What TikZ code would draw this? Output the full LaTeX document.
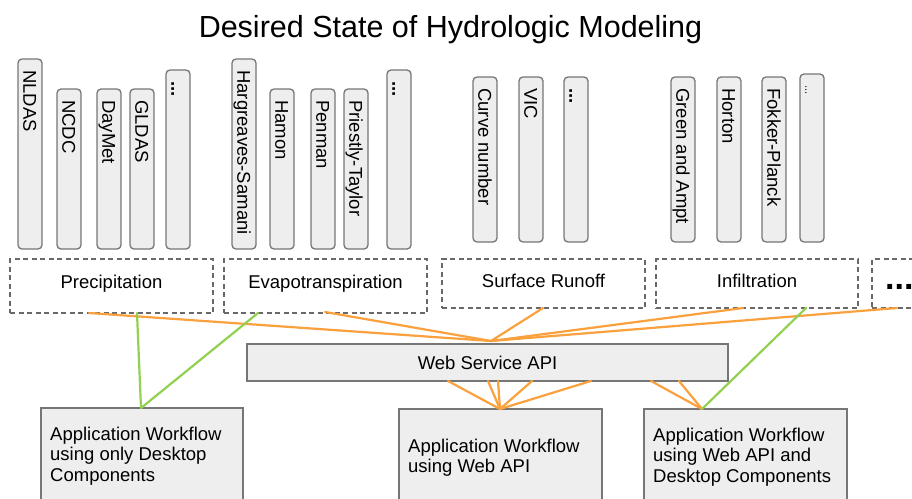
\documentclass[tikz,border=0pt]{standalone}
\usepackage{fontspec}
\setmainfont{Liberation Sans}
\definecolor{boxfill}{RGB}{238,238,238}
\definecolor{boxline}{RGB}{118,118,118}
\definecolor{dashline}{RGB}{105,105,105}
\definecolor{orangeline}{RGB}{250,160,60}
\definecolor{greenline}{RGB}{146,208,80}
\newcommand\hydvbox[5]{%
  \node[vbox, minimum height={#4-#3}] (#1) at (#2,#3) {};
  \node[vtext] (#1t) at (#2+5.4,#3+11) {#5};
}
\begin{document}
\begin{tikzpicture}[x=1pt,y=-1pt,
  vbox/.style={draw=boxline, fill=boxfill, line width=1.3pt, rounded corners=4pt,
    inner sep=0pt, outer sep=0pt, minimum width=24pt, anchor=north west},
  vtext/.style={rotate=-90, anchor=base west, inner sep=0pt, font=\fontsize{18.5}{20}\selectfont},
  catbox/.style={draw=dashline, line width=1.2pt, dash pattern=on 5pt off 3.5pt,
    inner sep=0pt, outer sep=0pt, anchor=north west},
  cattext/.style={anchor=base, inner sep=0pt, font=\fontsize{18.5}{20}\selectfont},
  graybox/.style={draw=boxline, fill=boxfill, line width=1.3pt, inner sep=0pt,
    outer sep=0pt, anchor=north west},
  apptext/.style={anchor=north west, inner sep=0pt, align=left,
    font=\fontsize{18.5}{20.8}\selectfont},
  oline/.style={draw=orangeline, line width=2.2pt, line cap=round},
  gline/.style={draw=greenline, line width=2.2pt, line cap=round}]
\useasboundingbox (0,0) rectangle (912,498);
\clip (0,0) rectangle (912,498);

% title
\node[anchor=base, inner sep=0pt, font=\fontsize{30.5}{32}\selectfont] (title) at (450.5,37)
  {Desired State of Hydrologic Modeling};

% method boxes
\hydvbox{nldas}{18}{59}{249}{NLDAS}
\hydvbox{ncdc}{57}{89}{249}{NCDC}
\hydvbox{daymet}{97}{89}{249}{DayMet}
\hydvbox{gldas}{130}{89}{249}{GLDAS}
\hydvbox{pmore}{166}{70}{249}{\textbf{...}}
\hydvbox{harg}{232}{59}{249}{Hargreaves-Samani}
\hydvbox{hamon}{270}{89}{249}{Hamon}
\hydvbox{penman}{311}{89}{249}{Penman}
\hydvbox{priestly}{344}{89}{249}{Priestly-Taylor}
\hydvbox{emore}{387}{70}{249}{\textbf{...}}
\hydvbox{curve}{473}{77}{242}{Curve number}
\hydvbox{vic}{519}{77}{242}{VIC}
\hydvbox{smore}{564}{77}{242}{\textbf{...}}
\hydvbox{green}{671}{77}{242}{Green and Ampt}
\hydvbox{horton}{717}{77}{242}{Horton}
\hydvbox{fokker}{762}{77}{242}{Fokker-Planck}
\hydvbox{imore}{800}{74}{242}{\fontsize{11}{12}\selectfont ...}

% category boxes
\node[catbox, minimum width=203pt, minimum height=54pt] (prec) at (10,259) {};
\node[catbox, minimum width=203pt, minimum height=54pt] (evap) at (224,259) {};
\node[catbox, minimum width=203pt, minimum height=49pt] (surf) at (442,259) {};
\node[catbox, minimum width=202pt, minimum height=49pt] (infil) at (656,259) {};
\node[catbox, minimum width=90pt, minimum height=49pt] (more) at (872,259) {};
\node[cattext] (prect) at (111.5,288) {Precipitation};
\node[cattext] (evapt) at (325.5,288) {Evapotranspiration};
\node[cattext] (surft) at (543.5,287) {Surface Runoff};
\node[cattext] (infilt) at (757,287) {Infiltration};
\node[anchor=base west, inner sep=0pt, font=\fontsize{34}{36}\selectfont\bfseries] (moret) at (885,289) {...};

% web service API
\node[graybox, minimum width=481pt, minimum height=37pt] (api) at (247,344) {};
\node[cattext] (apit) at (487.5,369) {Web Service API};

% application boxes
\node[graybox, minimum width=202pt, minimum height=110pt] (desk) at (41,408) {};
\node[graybox, minimum width=203pt, minimum height=110pt] (web) at (399,409) {};
\node[graybox, minimum width=203pt, minimum height=110pt] (both) at (644,409) {};
\node[apptext] (deskt) at (50,426.5) {Application Workflow\\using only Desktop\\Components};
\node[apptext] (webt) at (408,438.5) {Application Workflow\\using Web API};
\node[apptext] (botht) at (653,427.5) {Application Workflow\\using Web API and\\Desktop Components};

% connection points
\coordinate (hub) at (491,341);
\coordinate (pO) at (89,313);
\coordinate (eO) at (325,312);
\coordinate (sO) at (543,308);
\coordinate (iO) at (743,308);
\coordinate (mO) at (897,308);
\coordinate (pG) at (137,313);
\coordinate (eG) at (258,313);
\coordinate (dG) at (141,408);
\coordinate (iG) at (806,308);
\coordinate (bT) at (702,409);
\coordinate (wT) at (500,409);
\coordinate (a1) at (448,381);
\coordinate (a2) at (488,381);
\coordinate (a3) at (498,381);
\coordinate (a4) at (532,381);
\coordinate (a5) at (591,381);
\coordinate (b1) at (651,381);
\coordinate (b2) at (679,381);

% orange connectors
\foreach \s in {pO,eO,sO,iO,mO} \draw[oline] (\s) -- (hub);
\foreach \s in {a1,a2,a3,a4,a5} \draw[oline] (\s) -- (wT);
\foreach \s in {b1,b2} \draw[oline] (\s) -- (bT);

% green connectors
\draw[gline] (pG) -- (dG);
\draw[gline] (eG) -- (dG);
\draw[gline] (iG) -- (bT);
\end{tikzpicture}
\end{document}
